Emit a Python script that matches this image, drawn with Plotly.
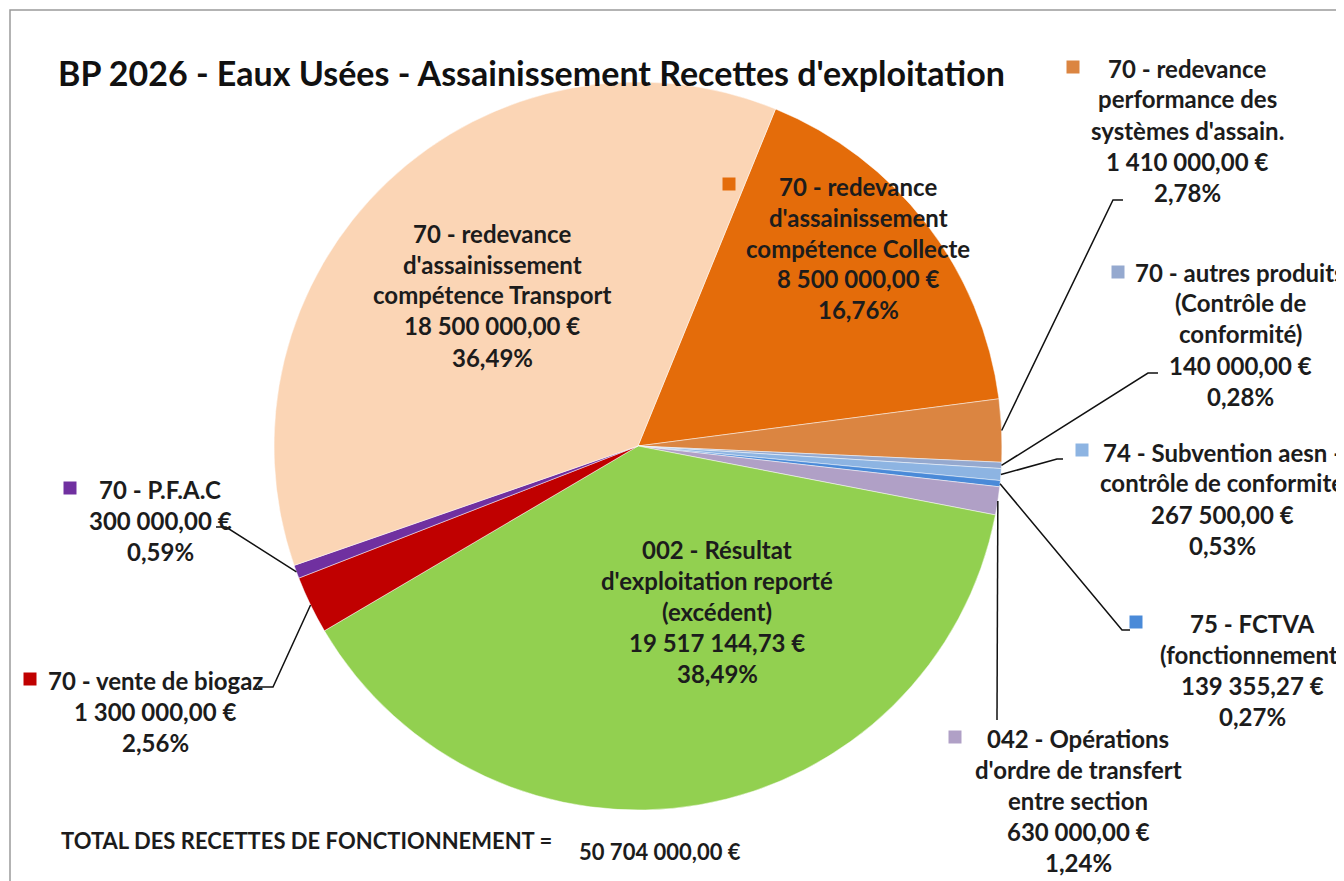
import math
import plotly.graph_objects as go

W, H = 1344, 881

# ---------------- data ----------------
categories = [
    "70 - redevance<br>d'assainissement<br>compétence Collecte",
    "70 - redevance<br>performance des<br>systèmes d'assain.",
    "70 - autres produits<br>(Contrôle de<br>conformité)",
    "74 - Subvention aesn -<br>contrôle de conformité",
    "75 - FCTVA<br>(fonctionnement)",
    "042 - Opérations<br>d'ordre de transfert<br>entre section",
    "002 - Résultat<br>d'exploitation reporté<br>(excédent)",
    "70 - vente de biogaz",
    "70 - P.F.A.C",
    "70 - redevance<br>d'assainissement<br>compétence Transport",
]
values = [8500000.00, 1410000.00, 140000.00, 267500.00, 139355.27,
          630000.00, 19517144.73, 1300000.00, 300000.00, 18500000.00]
colors = ["#E46C0A", "#DB8541", "#95A9CF", "#8DB4E2", "#4A8AD8",
          "#B0A0C6", "#92D050", "#C00000", "#7030A0", "#FBD5B5"]

title_text = "BP 2026 - Eaux Usées - Assainissement Recettes d'exploitation"
total_label = "TOTAL DES RECETTES DE FONCTIONNEMENT ="

# ---------------- layout parameters ----------------
OFF = 8                             # page body margin compensation
CX, CY, R = 638, 446, 364          # pie centre / radius in pixels
ROT = 22.2                          # start angle of first slice (deg, clockwise from 12h)
FONT = "Lato"
TXT = "#1c1c1c"
LINE_SP = 31
LSIZE = 24

# label block: centre x, first-line y, key square position, leader elbow points
label_pos = [
    dict(cx=858, y0=186, key=(729, 184), lead=None),
    dict(cx=1187, y0=68, key=(1073, 67), lead=[(1113, 200), (1123, 200)]),
    dict(cx=1240, y0=272, key=(1118, 272), lead=[(1148, 373), (1158, 373)]),
    dict(cx=1222, y0=452, key=(1082, 450), lead=[(1057, 459), (1063, 459)]),
    dict(cx=1252, y0=623, key=(1136, 622), lead=[(1122, 630), (1130, 630)]),
    dict(cx=1078, y0=738, key=(955, 737), lead=[(997, 720)]),
    dict(cx=717, y0=549, key=None, lead=None),
    dict(cx=155, y0=680, key=(30, 679), lead=[(273, 687), (258, 687)]),
    dict(cx=160, y0=489, key=(70, 488), lead=[(226, 527), (216, 527)]),
    dict(cx=492, y0=233, key=None, lead=None),
]


def px(x):
    return (x - OFF) / W


def py(y):
    return 1 - (y - OFF) / H


def fr_money(v):
    s = f"{v:,.2f}"
    ent, dec = s.split(".")
    return ent.replace(",", " ") + "," + dec + " €"


def fr_pct(v):
    return f"{v:.2f}".replace(".", ",") + "%"


total = sum(values)

fig = go.Figure()
fig.add_trace(go.Pie(
    labels=[c.replace("<br>", " ") for c in categories],
    values=values,
    sort=False,
    direction="clockwise",
    rotation=ROT,
    marker=dict(colors=colors, line=dict(color="rgba(255,255,255,0.6)", width=0.8)),
    textinfo="none",
    hoverinfo="label+value+percent",
    showlegend=False,
    domain=dict(x=[px(CX - R), px(CX + R)], y=[py(CY + R), py(CY - R)]),
))

annotations = []
shapes = []

cum = 0.0
for cat, val, col, lp in zip(categories, values, colors, label_pos):
    frac = val / total
    mid = math.radians(ROT + (cum + frac / 2) * 360)
    cum += frac
    lines = cat.split("<br>") + [fr_money(val), fr_pct(frac * 100)]
    for i, ln in enumerate(lines):
        annotations.append(dict(
            x=px(lp["cx"]), y=py(lp["y0"] + i * LINE_SP), xref="paper", yref="paper",
            text=f"<b>{ln}</b>", showarrow=False, xanchor="center", yanchor="middle",
            font=dict(family=FONT, size=LSIZE, color=TXT),
        ))
    if lp["key"]:
        kx, ky = lp["key"]
        s = 6.5
        shapes.append(dict(type="rect", xref="paper", yref="paper",
                           x0=px(kx - s), x1=px(kx + s), y0=py(ky + s), y1=py(ky - s),
                           fillcolor=col, line=dict(width=0)))
    if lp["lead"]:
        ex = CX + R * math.sin(mid)
        ey = CY - R * math.cos(mid)
        pts = [(ex, ey)] + lp["lead"]
        path = "M " + " L ".join(f"{px(x):.5f},{py(y):.5f}" for x, y in pts)
        shapes.append(dict(type="path", xref="paper", yref="paper", path=path,
                           line=dict(color="#111111", width=1.5)))

# title
annotations.append(dict(
    x=px(56), y=py(72), xref="paper", yref="paper", text=f"<b>{title_text}</b>",
    showarrow=False, xanchor="left", yanchor="middle",
    font=dict(family=FONT, size=34, color="#111111"),
))
# total
annotations.append(dict(
    x=px(59), y=py(840), xref="paper", yref="paper", text=f"<b>{total_label}</b>",
    showarrow=False, xanchor="left", yanchor="middle",
    font=dict(family=FONT, size=22, color=TXT),
))
annotations.append(dict(
    x=px(577), y=py(851), xref="paper", yref="paper", text=f"<b>{fr_money(total)}</b>",
    showarrow=False, xanchor="left", yanchor="middle",
    font=dict(family=FONT, size=22, color=TXT),
))

# frame
shapes.append(dict(type="rect", xref="paper", yref="paper",
                   x0=px(10), y0=py(H + 30), x1=px(W + 30), y1=py(10),
                   line=dict(color="#9a9a9a", width=1.5), fillcolor="rgba(0,0,0,0)", layer="below"))

fig.update_layout(
    width=W, height=H,
    margin=dict(l=0, r=0, t=0, b=0),
    paper_bgcolor="white", plot_bgcolor="white",
    annotations=annotations, shapes=shapes,
    font=dict(family=FONT),
)

fig.write_html("out.html")
